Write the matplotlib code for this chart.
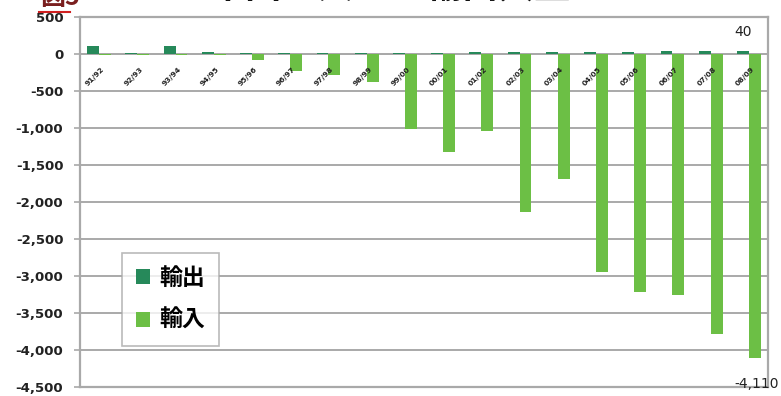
import matplotlib
matplotlib.use("Agg")
import matplotlib.pyplot as plt
import numpy as np
from matplotlib.ticker import FuncFormatter

plt.rcParams['font.family'] = ['Noto Sans CJK JP', 'DejaVu Sans']

years = ["91/92", "92/93", "93/94", "94/95", "95/96", "96/97", "97/98", "98/99",
         "99/00", "00/01", "01/02", "02/03", "03/04", "04/05", "05/06", "06/07",
         "07/08", "08/09"]
exports = [110, 20, 110, 25, 20, 15, 15, 15, 20, 20, 25, 25, 25, 25, 30, 35, 40, 40]
imports = [-15, -15, -15, -20, -80, -230, -290, -380, -1010, -1320, -1040, -2140,
           -1690, -2950, -3210, -3260, -3780, -4110]
y_ticks = list(range(500, -4501, -500))

EXPORT_COLOR = "#26895a"
IMPORT_COLOR = "#6cbf45"
GRID_COLOR = "#a9a9a9"

fig = plt.figure(figsize=(7.81, 3.96), dpi=100)
ax = fig.add_axes([80 / 781, 1 - 387 / 396, 688 / 781, 370 / 396])

x = np.arange(len(years))
w = 0.31
ax.bar(x - w / 2, exports, width=w, color=EXPORT_COLOR, label="輸出", zorder=3)
ax.bar(x + w / 2, imports, width=w, color=IMPORT_COLOR, label="輸入", zorder=3)

ax.set_xlim(-0.5, len(years) - 0.5)
ax.set_ylim(-4500, 500)
ax.set_yticks(y_ticks)
ax.yaxis.set_major_formatter(FuncFormatter(lambda v, p: f"{int(v):,}"))
ax.tick_params(axis="y", length=4, width=1.2, color=GRID_COLOR, pad=8,
               labelsize=9.5, labelcolor="#222222")
for lbl in ax.get_yticklabels():
    lbl.set_fontweight("bold")
    lbl.set_family(["DejaVu Sans"])
ax.set_xticks([])
ax.grid(axis="y", color=GRID_COLOR, linewidth=1.4, zorder=0)
ax.axhline(0, color=GRID_COLOR, linewidth=1.4, zorder=1)
for side, sp in ax.spines.items():
    sp.set_color(GRID_COLOR)
    sp.set_linewidth(1.6)

# category labels sit just under the zero line, slanted
for xi, name in zip(x, years):
    ax.text(xi + 0.17, -160, name, rotation=45, ha="right", va="top",
            fontsize=5.4, fontweight="bold", color="#222222",
            family=["DejaVu Sans"], zorder=4)

# value labels for the last season
ax.text(x[-1] - w / 2, 300, f"{exports[-1]:,}", ha="center", va="center",
        fontsize=10, color="#222222", family=["DejaVu Sans"])
ax.text(x[-1] + w / 2 + 0.05, -4460, f"{imports[-1]:,}", ha="center", va="center",
        fontsize=10, color="#222222", family=["DejaVu Sans"], clip_on=False)

leg = ax.legend(loc="upper left", bbox_to_anchor=(42 / 688, 1 - 236 / 370),
                prop={"family": ["Noto Sans CJK JP"], "weight": "bold", "size": 16.5},
                frameon=True, fancybox=False, edgecolor=GRID_COLOR,
                handlelength=0.62, handleheight=0.62, handletextpad=0.4,
                borderpad=0.6, labelspacing=0.85, borderaxespad=0)
leg.get_frame().set_linewidth(1.2)

# chart heading, mostly beyond the top edge
fig.text(0.052, 1 - 10 / 396, "図5", fontsize=18, fontweight="bold",
         color="#7a1f1f", ha="left", va="bottom", style="italic")
fig.add_artist(plt.Line2D([0.05, 0.09], [1 - 12 / 396, 1 - 12 / 396],
                          color="#d02020", linewidth=1.5, transform=fig.transFigure))
fig.text(0.50, 1 - 7 / 396, "中国の大豆の輸出入量", fontsize=26, fontweight="bold",
         color="#111111", ha="center", va="bottom")

fig.savefig("out.png", dpi=100, facecolor="white")
